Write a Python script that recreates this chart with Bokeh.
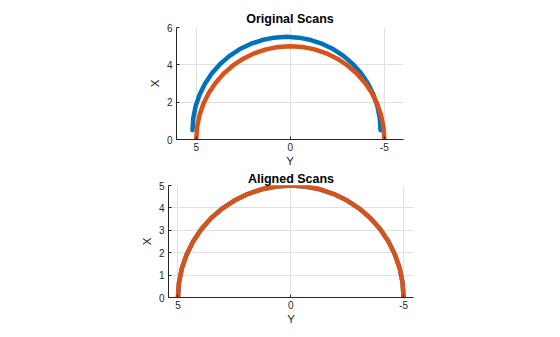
from bokeh.plotting import figure
from bokeh.models import Range1d, FixedTicker
from bokeh.embed import file_html
from bokeh.resources import INLINE

# Reference scan (range 5, angles -90..90 deg), Y (horizontal) and X (vertical)
ref_y = [-5.0, -4.957, -4.830, -4.619, -4.330, -3.967, -3.536, -3.044, -2.5, -1.913, -1.294, -0.653,
         0.0, 0.653, 1.294, 1.913, 2.5, 3.044, 3.536, 3.967, 4.330, 4.619, 4.830, 4.957, 5.0]
ref_x = [0.0, 0.653, 1.294, 1.913, 2.5, 3.044, 3.536, 3.967, 4.330, 4.619, 4.830, 4.957,
         5.0, 4.957, 4.830, 4.619, 4.330, 3.967, 3.536, 3.044, 2.5, 1.913, 1.294, 0.653, 0.0]

# Current (offset) scan
curr_y = [-4.8, -4.757, -4.630, -4.419, -4.130, -3.767, -3.336, -2.844, -2.3, -1.713, -1.094, -0.453,
          0.2, 0.853, 1.494, 2.113, 2.7, 3.244, 3.736, 4.167, 4.530, 4.819, 5.030, 5.157, 5.2]
curr_x = [0.5, 1.153, 1.794, 2.413, 3.0, 3.544, 4.036, 4.467, 4.830, 5.119, 5.330, 5.457,
          5.5, 5.457, 5.330, 5.119, 4.830, 4.467, 4.036, 3.544, 3.0, 2.413, 1.794, 1.153, 0.5]

# Aligned scan (after matching)
aligned_y = [-5.0, -4.957, -4.830, -4.619, -4.330, -3.967, -3.536, -3.044, -2.5, -1.913, -1.294, -0.653,
             0.0, 0.653, 1.294, 1.913, 2.5, 3.044, 3.536, 3.967, 4.330, 4.619, 4.830, 4.957, 5.0]
aligned_x = [0.0, 0.653, 1.294, 1.913, 2.5, 3.044, 3.536, 3.967, 4.330, 4.619, 4.830, 4.957,
             5.0, 4.957, 4.830, 4.619, 4.330, 3.967, 3.536, 3.044, 2.5, 1.913, 1.294, 0.653, 0.0]

top_xticks = [5, 0, -5]
top_yticks = [0, 2, 4, 6]
bot_xticks = [5, 0, -5]
bot_yticks = [0, 1, 2, 3, 4, 5]

BLUE = "#0072BD"
ORANGE = "#D95319"
AX = "#262626"
FONT = "Liberation Sans"


def style(p, xt, yt):
    p.outline_line_color = None
    p.background_fill_color = "white"
    p.border_fill_color = "white"
    for ax in (p.xaxis[0], p.yaxis[0]):
        ax.axis_line_color = AX
        ax.major_tick_line_color = AX
        ax.major_tick_in = 3
        ax.major_tick_out = 0
        ax.minor_tick_line_color = None
        ax.major_label_text_font = FONT
        ax.major_label_text_font_size = "10px"
        ax.major_label_text_color = AX
        ax.axis_label_text_font = FONT
        ax.axis_label_text_font_size = "11.5px"
        ax.axis_label_text_font_style = "normal"
        ax.axis_label_text_color = AX
    p.xaxis[0].ticker = FixedTicker(ticks=xt)
    p.yaxis[0].ticker = FixedTicker(ticks=yt)
    p.xaxis[0].major_label_overrides = {t: str(t) for t in xt}
    p.xaxis[0].major_label_standoff = 3
    p.yaxis[0].major_label_standoff = 4
    p.xaxis[0].axis_label_standoff = 1
    p.yaxis[0].axis_label_standoff = 3
    p.xaxis.axis_label = "Y"
    p.yaxis.axis_label = "X"
    p.xgrid.ticker = FixedTicker(ticks=xt)
    p.ygrid.ticker = FixedTicker(ticks=yt)
    p.grid.grid_line_color = "#dfdfdf"
    p.grid.grid_line_width = 1
    p.title.text_font = FONT
    p.title.text_font_size = "12.5px"
    p.title.text_font_style = "bold"
    p.title.text_color = "#000000"
    p.title.align = "center"
    p.title.standoff = 3


p1 = figure(frame_width=227, frame_height=112, min_border_left=176, min_border_right=157,
            min_border_top=27, min_border_bottom=29, x_range=Range1d(6.05, -6.02),
            y_range=Range1d(0, 6), toolbar_location=None, output_backend="svg",
            title="Original Scans")
p1.line(curr_y, curr_x, line_color=BLUE, line_width=4.5, line_cap="round", line_join="round")
p1.line(ref_y, ref_x, line_color=ORANGE, line_width=4.5, line_cap="round", line_join="round")
style(p1, top_xticks, top_yticks)

p2 = figure(frame_width=245, frame_height=112, min_border_left=168, min_border_right=147,
            min_border_top=16, min_border_bottom=39, x_range=Range1d(5.42, -5.44),
            y_range=Range1d(0, 5), toolbar_location=None, output_backend="svg",
            title="Aligned Scans")
p2.line(aligned_y, aligned_x, line_color=BLUE, line_width=4.5, line_cap="round", line_join="round")
p2.line(ref_y, ref_x, line_color=ORANGE, line_width=4.5, line_cap="round", line_join="round")
style(p2, bot_xticks, bot_yticks)
p2.title.standoff = 0
p2.title.offset = 0

open("out.html", "w").write(file_html([p1, p2], INLINE))
